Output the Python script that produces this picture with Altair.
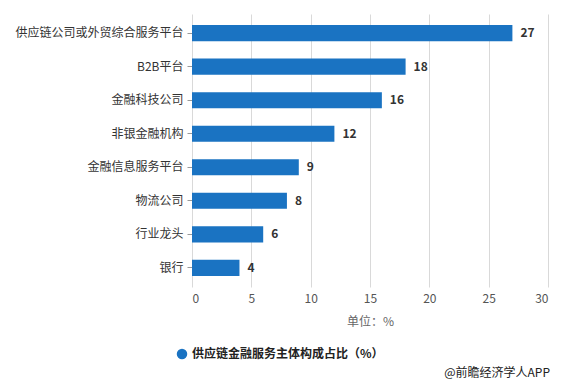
import altair as alt
import pandas as pd

categories = ["供应链公司或外贸综合服务平台", "B2B平台", "金融科技公司", "非银金融机构",
              "金融信息服务平台", "物流公司", "行业龙头", "银行"]
values = [27, 18, 16, 12, 9, 8, 6, 4]
series_name = "供应链金融服务主体构成占比（%）"
x_ticks = [0, 5, 10, 15, 20, 25, 30]

df = pd.DataFrame({"cat": categories, "val": values, "series": [series_name] * len(values)})
FONT = "Noto Sans CJK SC"
BLUE = "#1a73c2"

base = alt.Chart(df).encode(
    y=alt.Y("cat:N", sort=categories, title=None,
            scale=alt.Scale(paddingInner=0.52, paddingOuter=0.33),
            axis=alt.Axis(labelFont=FONT, labelFontSize=12, labelColor="#333333",
                          tickColor="#999999", tickSize=5, domain=False, labelPadding=4,
                          grid=False)),
)

bars = base.mark_bar(color=BLUE).encode(
    x=alt.X("val:Q", scale=alt.Scale(domain=[0, 30]),
            title="单位：%",
            axis=alt.Axis(values=x_ticks, labelFont=FONT, labelFontSize=12, labelColor="#555555",
                          titleFont=FONT, titleFontSize=12, titleFontWeight="normal",
                          titleColor="#666666", titlePadding=12,
                          domain=False, ticks=False, gridColor="#d9d9d9", labelPadding=6)),
    color=alt.Color("series:N", scale=alt.Scale(range=[BLUE]), title=None,
                    legend=alt.Legend(orient="none", legendX=-16, legendY=334,
                                      symbolType="circle", symbolSize=110, labelLimit=0,
                                      labelFont=FONT, labelFontSize=12, labelFontWeight="bold",
                                      labelColor="#222222")),
)

labels = base.mark_text(align="left", dx=8, font=FONT, fontSize=12, fontWeight="bold",
                        color="#333333").encode(
    x="val:Q", text="val:Q")

credit = alt.Chart(pd.DataFrame({"t": ["@前瞻经济学人APP"]})).mark_text(
    align="right", font=FONT, fontSize=12, color="#222222").encode(
    text="t:N", x=alt.value(358), y=alt.value(359))

chart = alt.layer(bars, labels, credit).properties(
    width=356, height=273,
    autosize=alt.AutoSizeParams(type="none"),
    padding={"left": 184, "top": 6, "right": 4, "bottom": 102},
).configure_view(stroke=None)

chart.save("out.html", embed_options={"renderer": "svg", "actions": False})
